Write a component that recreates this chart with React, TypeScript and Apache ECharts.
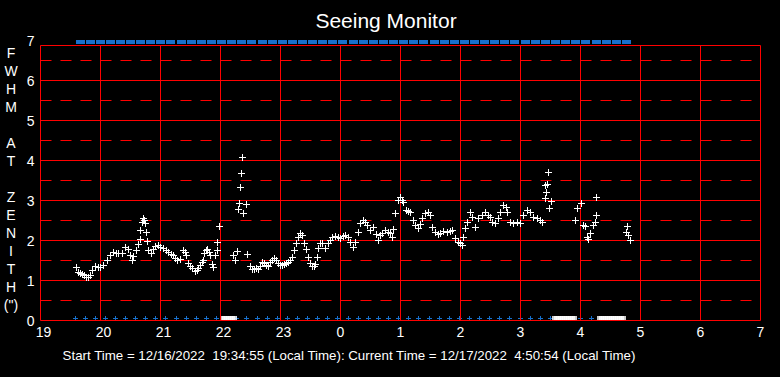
import React, { useEffect, useRef } from "react";
import * as echarts from "echarts";

// x values are minutes after 19:00 local time (12/16/2022); axis runs 19 .. 7
const startHour = 19;
const axisMinutes = 720;
const hourStep = 60;

// FWHM at zenith samples: [minutes after 19:00, arcsec]
const fwhmPoints: [number, number][] = [
  [36, 1.32], [38, 1.2], [40, 1.17], [42, 1.15], [44, 1.12], [46, 1.08], [48, 1.07], [50, 1.12],
  [52, 1.25], [55, 1.35], [58, 1.32], [60, 1.33], [63, 1.37], [67, 1.5], [70, 1.62], [73, 1.7],
  [76, 1.68], [78, 1.67], [82, 1.68], [85, 1.83], [88, 1.78], [90, 1.62], [92, 1.5], [93, 1.6],
  [96, 1.75], [98, 1.9], [100, 2.02], [100, 2.25], [102, 2.45], [103, 2.55], [104, 2.5], [105, 2.42],
  [106, 2.2], [107, 1.97], [108, 1.75], [111, 1.67], [113, 1.78], [115, 1.85], [118, 1.87], [120, 1.83],
  [123, 1.8], [126, 1.75], [128, 1.7], [131, 1.65], [133, 1.62], [135, 1.55], [137, 1.5], [140, 1.52],
  [143, 1.75], [145, 1.7], [146, 1.62], [148, 1.42], [150, 1.35], [152, 1.3], [155, 1.23], [157, 1.25],
  [158, 1.3], [160, 1.37], [162, 1.45], [163, 1.5], [164, 1.67], [166, 1.75], [167, 1.78], [169, 1.7],
  [170, 1.62], [172, 1.4], [173, 1.32], [175, 1.62], [177, 1.75], [177, 1.95], [179, 2.35],
  [193, 1.62], [195, 1.5], [197, 1.72], [198, 2.77], [199, 2.93], [200, 3.33], [201, 3.67], [202, 4.07],
  [203, 2.67], [206, 2.9], [207, 1.65], [210, 1.35], [212, 1.28], [214, 1.27], [216, 1.3], [218, 1.28],
  [220, 1.35], [222, 1.45], [224, 1.42], [226, 1.38], [228, 1.35], [230, 1.45], [232, 1.5], [234, 1.55],
  [236, 1.5], [238, 1.42], [240, 1.37], [242, 1.37], [244, 1.4], [246, 1.42], [248, 1.45], [250, 1.5],
  [252, 1.57], [254, 1.75], [256, 1.92], [258, 2.07], [260, 2.17], [262, 2.12], [264, 1.92], [266, 1.78],
  [268, 1.57], [270, 1.42], [272, 1.35], [274, 1.35], [275, 1.4], [277, 1.57], [278, 1.8], [280, 1.92],
  [282, 1.92], [285, 1.8], [288, 1.92], [290, 2.0], [292, 2.07], [295, 2.1], [298, 2.08], [300, 2.05],
  [303, 2.1], [305, 2.12], [308, 2.07], [310, 1.95], [313, 1.83], [315, 1.95], [318, 2.2], [320, 2.42],
  [323, 2.5], [325, 2.45], [327, 2.37], [330, 2.25], [333, 2.32], [336, 2.15], [338, 2.0], [340, 2.12],
  [342, 2.17], [345, 2.25], [348, 2.2], [350, 2.17], [352, 2.07], [353, 2.27], [355, 2.67], [358, 3.0],
  [360, 3.07], [362, 3.0], [363, 2.95], [366, 2.75], [368, 2.72], [370, 2.7], [373, 2.5], [375, 2.37],
  [378, 2.3], [380, 2.4], [382, 2.55], [385, 2.67], [388, 2.7], [390, 2.62], [392, 2.33], [395, 2.2],
  [398, 2.15], [400, 2.17], [403, 2.22], [407, 2.2], [410, 2.22], [412, 2.25], [415, 2.05], [418, 1.95],
  [420, 1.92], [422, 1.87], [423, 2.07], [425, 2.3], [427, 2.45], [430, 2.7], [432, 2.57], [435, 2.33],
  [438, 2.55], [442, 2.62], [445, 2.7], [448, 2.62], [450, 2.57], [452, 2.45], [455, 2.42], [458, 2.55],
  [460, 2.7], [463, 2.87], [466, 2.83], [467, 2.7], [470, 2.45], [473, 2.42], [477, 2.45], [480, 2.42],
  [483, 2.62], [487, 2.75], [490, 2.7], [493, 2.57], [497, 2.55], [500, 2.5], [502, 2.45], [505, 3.05],
  [505, 3.37], [506, 3.2], [507, 3.4], [508, 3.7], [509, 2.8], [511, 2.97],
  [535, 2.5], [537, 2.8], [541, 2.92], [543, 2.37], [545, 2.35], [547, 2.07], [548, 2.02], [550, 2.17],
  [553, 2.37], [555, 2.45], [556, 2.62], [556, 3.07],
  [586, 2.2], [587, 2.35], [588, 2.12], [590, 2.0],
];

// samples with no measurement (plotted at 0)
const zeroTimes = [
  182, 184, 186, 188, 190, 192, 194,
  514, 516, 518, 520, 522, 524, 526, 528, 530, 532, 534,
  559, 561, 563, 565, 567, 569, 571, 573, 575, 577, 579, 581, 583,
];

// status markers along the top (at 7) and along the bottom (at 0)
const topMarkerTimes = [
  40, 50, 60, 70, 80, 90, 100, 110, 120, 130, 141, 151, 161, 171, 181, 191, 201, 211, 222, 232,
  242, 252, 262, 272, 282, 292, 302, 313, 323, 333, 343, 353, 363, 373, 383, 394, 404, 414, 424, 434,
  444, 454, 464, 474, 485, 495, 505, 515, 525, 535, 545, 556, 566, 576, 586,
];
const bottomMarkerTimes = [
  35, 45, 55, 65, 75, 85, 95, 105, 115, 125, 136, 146, 156, 166, 176, 186, 196, 206, 217, 227,
  237, 247, 257, 267, 277, 287, 297, 308, 318, 328, 338, 348, 358, 368, 378, 389, 399, 409, 419, 429,
  439, 449, 459, 469, 480, 490, 500, 510, 520, 530, 540, 551, 561, 571, 581,
];
const topLevel = 7;
const bottomLevel = 0;

const solidLevels = [0, 1, 2, 3, 4, 5, 6];
const dashedLevels = [0.5, 1.5, 2.5, 3.5, 4.5, 5.5, 6.5];
const frameTop = 6.875;
const verticalTicks = [0, 60, 120, 180, 240, 300, 360, 420, 480, 540, 600, 660, 720];

const yTitleLetters = ["F", "W", "H", "M", " ", "A", "T", " ", "Z", "E", "N", "I", "T", "H", "(\")"];
const titleText = "Seeing Monitor";
const footerText =
  "Start Time = 12/16/2022  19:34:55 (Local Time): Current Time = 12/17/2022  4:50:54 (Local Time)";

const RED = "#ff0000";
const BLUE = "#1e8cff";
const FONT = "'Liberation Sans', Arial, sans-serif";
const PLUS5 = "path://M2,0H3V2H5V3H3V5H2V3H0V2H2Z";

export default function App() {
  const ref = useRef<HTMLDivElement>(null);

  useEffect(() => {
    document.body.style.margin = "0";
    document.body.style.background = "#000";
    const chart = echarts.init(ref.current!, null, { renderer: "svg" });

    const horizontal = (levels: number[]) =>
      levels.map((y) => [{ coord: [0, y] }, { coord: [axisMinutes, y] }]);
    const solidLines = [
      ...horizontal(solidLevels),
      ...horizontal([frameTop]),
      ...verticalTicks.map((x) => [{ coord: [x, 0] }, { coord: [x, frameTop] }]),
    ];
    const dashedLines = horizontal(dashedLevels);

    const markBase = {
      silent: true,
      symbol: ["none", "none"],
      label: { show: false },
      emphasis: { disabled: true },
      animation: false,
    };

    // crisp pixel-aligned "+" marker placed through the axes' scales
    const renderPlus = (_params: any, api: any) => {
      const p = api.coord([api.value(0), api.value(1)]);
      const px = Math.floor(p[0]);
      const py = Math.floor(p[1]);
      const style = { fill: "#fff" };
      return {
        type: "group",
        children: [
          { type: "rect", shape: { x: px - 3, y: py, width: 7, height: 1 }, style },
          { type: "rect", shape: { x: px, y: py - 3, width: 1, height: 7 }, style },
        ],
      };
    };

    chart.setOption({
      animation: false,
      backgroundColor: "#000",
      grid: { left: 40.5, right: 19.5, top: 40.5, bottom: 56.5, containLabel: false },
      xAxis: {
        type: "value",
        min: 0,
        max: axisMinutes,
        interval: hourStep,
        axisLine: { show: false },
        axisTick: { show: false },
        splitLine: { show: false },
        axisLabel: {
          color: "#fff",
          fontSize: 14,
          fontFamily: FONT,
          margin: 4,
          formatter: (v: number) => {
            const s = String((startHour + Math.round(v / hourStep)) % 24);
            return s.length > 1 ? `{d|${s}}` : s;
          },
          rich: {
            d: { color: "#fff", fontSize: 14, fontFamily: FONT, padding: [0, 0, 0, 6] },
          },
        },
      },
      yAxis: {
        type: "value",
        min: 0,
        max: 7,
        interval: 1,
        axisLine: { show: false },
        axisTick: { show: false },
        splitLine: { show: false },
        axisLabel: { color: "#fff", fontSize: 14, fontFamily: FONT, margin: 6 },
      },
      graphic: [
        {
          type: "text",
          x: 386,
          y: 20,
          style: {
            text: titleText,
            fill: "#fff",
            font: `21px ${FONT}`,
            textAlign: "center",
            textVerticalAlign: "middle",
          },
        },
        {
          type: "text",
          x: 11,
          y: 44,
          style: {
            text: yTitleLetters.join("\n"),
            fill: "#fff",
            font: `14px ${FONT}`,
            lineHeight: 18,
            textAlign: "center",
            textVerticalAlign: "top",
          },
        },
        {
          type: "text",
          x: 349,
          y: 355,
          style: {
            text: footerText,
            fill: "#fff",
            font: `13.3px ${FONT}`,
            textAlign: "center",
            textVerticalAlign: "middle",
          },
        },
      ],
      series: [
        {
          type: "scatter",
          data: [],
          z: 1,
          silent: true,
          markLine: {
            ...markBase,
            lineStyle: { color: RED, width: 1, type: "solid" },
            data: solidLines,
          },
        },
        {
          type: "scatter",
          data: [],
          z: 1,
          silent: true,
          markLine: {
            ...markBase,
            lineStyle: { color: RED, width: 1, type: [11, 9] },
            data: dashedLines,
          },
        },
        {
          type: "scatter",
          z: 3,
          silent: true,
          clip: false,
          symbol: "rect",
          symbolSize: [9, 4],
          symbolOffset: [0, 1.5],
          itemStyle: { color: BLUE },
          data: topMarkerTimes.map((t) => [t, topLevel]),
        },
        {
          type: "scatter",
          z: 3,
          silent: true,
          clip: false,
          symbol: PLUS5,
          symbolSize: 5,
          symbolOffset: [0, -2],
          itemStyle: { color: BLUE },
          data: bottomMarkerTimes.map((t) => [t, bottomLevel]),
        },
        {
          type: "scatter",
          z: 4,
          silent: true,
          clip: false,
          symbol: "rect",
          symbolSize: [5, 4],
          symbolOffset: [0, -2.5],
          itemStyle: { color: "#fff" },
          data: zeroTimes.map((t) => [t, 0]),
        },
        {
          type: "custom",
          z: 5,
          silent: true,
          clip: false,
          renderItem: renderPlus,
          encode: { x: 0, y: 1 },
          data: fwhmPoints,
        },
      ],
    });

    return () => chart.dispose();
  }, []);

  return <div ref={ref} style={{ width: 780, height: 377, background: "#000" }} />;
}
